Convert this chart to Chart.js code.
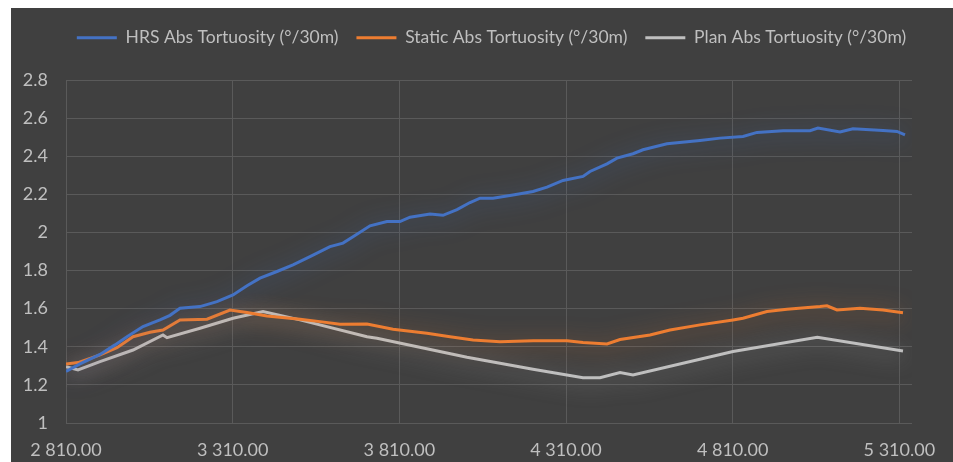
<!DOCTYPE html>
<html>
<head>
<meta charset="utf-8">
<script src="https://cdn.jsdelivr.net/npm/chart.js@4"></script>
<style>
html,body{margin:0;padding:0;background:#ffffff;}
#wrap{position:absolute;left:11px;top:8px;width:942px;height:454px;background:#404040;}
canvas{display:block;}
</style>
</head>
<body>
<div id="wrap"><canvas id="c" width="942" height="454"></canvas></div>
<script>
// ---- data ----
const seriesNames = ["HRS Abs Tortuosity (°/30m)", "Static Abs Tortuosity (°/30m)", "Plan Abs Tortuosity (°/30m)"];

const hrsDepth = [2810,2852,2912,2957,2993,3041,3092,3122,3152,3212,3263,3311,3353,3392,3443,3491,3542,3602,3641,3671,3722,3773,3812,3842,3902,3941,3983,4022,4052,4091,4151,4211,4253,4301,4361,4382,4433,4463,4511,4541,4613,4712,4772,4841,4883,4961,5042,5066,5132,5171,5261,5303,5327];
const hrsValues = [1.27,1.31,1.36,1.41,1.453,1.506,1.541,1.565,1.602,1.611,1.637,1.672,1.72,1.76,1.795,1.83,1.873,1.926,1.944,1.978,2.035,2.057,2.057,2.08,2.097,2.09,2.12,2.157,2.18,2.18,2.197,2.215,2.238,2.273,2.294,2.32,2.36,2.39,2.413,2.434,2.465,2.483,2.495,2.504,2.525,2.534,2.534,2.548,2.527,2.544,2.535,2.53,2.512];

const staticDepth = [2810,2846,2912,2963,3011,3062,3101,3152,3233,3302,3353,3413,3512,3572,3632,3713,3791,3893,3962,4031,4112,4211,4313,4361,4433,4472,4562,4622,4712,4811,4841,4913,4973,5072,5093,5123,5192,5261,5321];
const staticValues = [1.31,1.317,1.357,1.395,1.453,1.476,1.488,1.541,1.545,1.593,1.58,1.562,1.545,1.532,1.518,1.52,1.492,1.471,1.453,1.436,1.427,1.432,1.432,1.422,1.415,1.438,1.462,1.488,1.515,1.541,1.55,1.585,1.597,1.611,1.615,1.593,1.602,1.593,1.579];

const planDepth = [2810,2846,2912,3011,3101,3113,3212,3311,3401,3512,3713,3743,4013,4211,4361,4412,4472,4511,4811,5064,5321];
const planValues = [1.296,1.278,1.322,1.383,1.462,1.448,1.497,1.55,1.585,1.541,1.453,1.445,1.345,1.282,1.238,1.238,1.265,1.252,1.375,1.45,1.378];

const xTickValues = [2810,3310,3810,4310,4810,5310];
const yTickValues = [1,1.2,1.4,1.6,1.8,2,2.2,2.4,2.6,2.8];

// ---- helpers ----
function pts(xs, ys){ return xs.map((x,i)=>({x:x, y:ys[i]})); }
function fmtDepth(v){
  const s = v.toFixed(2);
  const [ip, dp] = s.split('.');
  return ip.replace(/\B(?=(\d{3})+(?!\d))/g, ' ') + '.' + dp;
}

const colors = ['#4472C4', '#ED7D31', '#BFBFBF'];

const glowPlugin = {
  id: 'glow',
  beforeDatasetDraw(chart, args){
    const ctx = chart.ctx;
    ctx.save();
    const c = chart.data.datasets[args.index].borderColor;
    ctx.shadowColor = c + 'AA';
    ctx.shadowBlur = 22;
    ctx.shadowOffsetY = 3;
  },
  afterDatasetDraw(chart){
    chart.ctx.restore();
  }
};

// legend box: fixed height so plot top matches, shifted right to match reference centring
const legendPlacement = {
  id: 'legendPlacement',
  beforeLayout(chart){
    const lg = chart.legend;
    if (lg && !lg._fixedFit){
      const orig = lg.fit.bind(lg);
      lg.fit = function(){ orig(); this.height = 69; };
      lg._fixedFit = true;
    }
  },
  afterLayout(chart){
    const lg = chart.legend;
    if (lg){ lg.left += 30; lg.right += 30; }
  }
};

const fontFam = "Lato, 'Open Sans', sans-serif";

new Chart(document.getElementById('c'), {
  type: 'line',
  data: {
    datasets: [
      {label: seriesNames[0], data: pts(hrsDepth, hrsValues), borderColor: colors[0], backgroundColor: colors[0]},
      {label: seriesNames[1], data: pts(staticDepth, staticValues), borderColor: colors[1], backgroundColor: colors[1]},
      {label: seriesNames[2], data: pts(planDepth, planValues), borderColor: colors[2], backgroundColor: colors[2]}
    ].map(d => Object.assign(d, {borderWidth: 3, pointRadius: 0, tension: 0, fill: false}))
  },
  options: {
    responsive: false,
    animation: false,
    layout: {padding: {left: 0, right: 41, top: 3, bottom: 0}},
    plugins: {
      legend: {
        position: 'top',
        labels: {
          color: '#BFBFBF',
          font: {family: fontFam, size: 17.5},
          boxWidth: 40,
          boxHeight: 3,
          padding: 18,
          generateLabels(chart){
            return Chart.defaults.plugins.legend.labels.generateLabels(chart).map(l => Object.assign(l, {lineWidth: 0}));
          }
        }
      },
      tooltip: {enabled: false}
    },
    scales: {
      x: {
        type: 'linear',
        min: 2810,
        max: 5348,
        afterBuildTicks(scale){ scale.ticks = xTickValues.map(v => ({value: v})); },
        afterFit(scale){ scale.height = 39; },
        ticks: {
          color: '#BFBFBF',
          font: {family: fontFam, size: 18},
          padding: 16,
          maxRotation: 0,
          autoSkip: false,
          callback: (v) => fmtDepth(v)
        },
        grid: {color: '#5A5A5A', lineWidth: 1, drawTicks: false},
        border: {display: false}
      },
      y: {
        min: 1,
        max: 2.8,
        afterBuildTicks(scale){ scale.ticks = yTickValues.map(v => ({value: v})); },
        afterFit(scale){ scale.width = 55; },
        ticks: {
          color: '#BFBFBF',
          font: {family: fontFam, size: 18},
          padding: 18,
          callback: (v) => String(Number(v.toFixed(1)))
        },
        grid: {color: '#5A5A5A', lineWidth: 1, drawTicks: false},
        border: {display: false}
      }
    }
  },
  plugins: [glowPlugin, legendPlacement]
});
</script>
</body>
</html>
